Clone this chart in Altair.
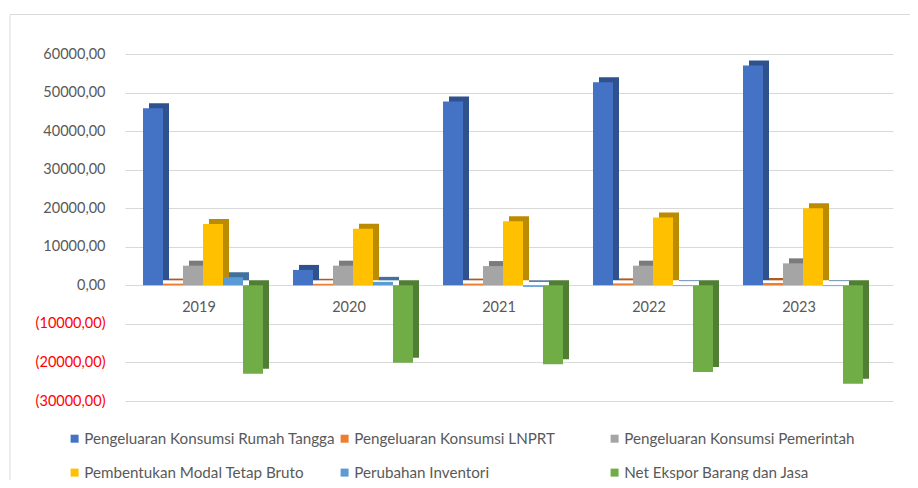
import altair as alt
import pandas as pd

years = ["2019", "2020", "2021", "2022", "2023"]
series = [
    "Pengeluaran Konsumsi Rumah Tangga",
    "Pengeluaran Konsumsi LNPRT",
    "Pengeluaran Konsumsi Pemerintah",
    "Pembentukan Modal Tetap Bruto",
    "Perubahan Inventori",
    "Net Ekspor Barang dan Jasa",
]
rumah_tangga = [45900, 4000, 47700, 52700, 57000]
lnprt = [450, 400, 450, 500, 600]
pemerintah = [5100, 5100, 5000, 5100, 5700]
pmtb = [15900, 14700, 16600, 17600, 20000]
inventori = [2100, 900, -400, -200, -200]
net_ekspor = [-22900, -20100, -20500, -22500, -25500]

front_colors = ["#4472C4", "#ED7D31", "#A5A5A5", "#FFC000", "#5B9BD5", "#70AD47"]
side_colors = ["#2F528F", "#AE5A21", "#7B7B7B", "#BC8C00", "#41719C", "#507E32"]
y_ticks = list(range(-30000, 60001, 10000))

all_values = [rumah_tangga, lnprt, pemerintah, pmtb, inventori, net_ekspor]
rows = []
for j, s in enumerate(series):
    for i, y in enumerate(years):
        rows.append({"year": y, "series": s, "yi": i, "si": j, "value": all_values[j][i]})
df = pd.DataFrame(rows)
ydf = pd.DataFrame({"year": years, "yi": list(range(len(years)))})

FONT = "Lato"
GROUP = 7.5

x_scale = alt.Scale(domain=[-0.9, 37.5], nice=False, zero=False)
y_scale = alt.Scale(domain=[-30000, 60000], nice=False)

label_expr = ("datum.value < 0 ? '(' + replace(format(-datum.value, '.2f'), '.', ',') + ')'"
              " : replace(format(datum.value, '.2f'), '.', ',')")
y_axis = alt.Axis(
    values=y_ticks,
    labelExpr=label_expr,
    labelColor=alt.condition("datum.value < 0", alt.value("#FF0000"), alt.value("#595959")),
    labelFontSize=14.5,
    labelFont=FONT,
    labelPadding=20,
    domain=False,
    ticks=False,
    grid=True,
    gridColor="#D9D9D9",
    gridWidth=1,
    title=None,
)

base = alt.Chart(df).transform_calculate(
    x0=f"datum.yi * {GROUP} + datum.si",
    x1=f"datum.yi * {GROUP} + datum.si + 1",
    zero="0",
)

side = base.mark_bar(xOffset=6, x2Offset=6, yOffset=-5, y2Offset=-5).encode(
    x=alt.X("x0:Q", scale=x_scale, axis=None),
    x2="x1:Q",
    y=alt.Y("value:Q", scale=y_scale, axis=y_axis),
    y2="zero:Q",
    color=alt.Color("series:N", scale=alt.Scale(domain=series, range=side_colors), legend=None),
)

front = base.mark_bar().encode(
    x=alt.X("x0:Q", scale=x_scale, axis=None),
    x2="x1:Q",
    y=alt.Y("value:Q", scale=y_scale, axis=y_axis),
    y2="zero:Q",
    color=alt.Color(
        "series:N",
        scale=alt.Scale(domain=series, range=front_colors),
        legend=alt.Legend(
            orient="none",
            direction="horizontal",
            legendX=-58,
            legendY=377,
            columns=3,
            symbolType="square",
            symbolSize=64,
            symbolStrokeWidth=0,
            symbolOpacity=1,
            labelFontSize=15.2,
            labelFont=FONT,
            labelColor="#595959",
            labelOffset=2,
            labelLimit=400,
            rowPadding=18,
            columnPadding=2,
            gridAlign="all",
            title=None,
        ),
    ),
)

year_labels = alt.Chart(ydf).transform_calculate(
    xc=f"datum.yi * {GROUP} + 2.8",
    zero="0",
).mark_text(dy=23, font=FONT, fontSize=14.5, color="#595959").encode(
    x=alt.X("xc:Q", scale=x_scale, axis=None),
    y=alt.Y("zero:Q", scale=y_scale, axis=y_axis),
    text="year:N",
)

one = pd.DataFrame({"k": [0]})
border_v = alt.Chart(one).mark_rule(color="#D9D9D9", strokeWidth=1).encode(
    x=alt.value(-115), y=alt.value(-39.5), y2=alt.value(450)
)
border_h = alt.Chart(one).mark_rule(color="#D9D9D9", strokeWidth=1).encode(
    x=alt.value(-115), x2=alt.value(785), y=alt.value(-39.5)
)

chart = alt.layer(side, front, year_labels, border_v, border_h).resolve_scale(
    color="independent"
).properties(
    width=768,
    height=347,
    padding={"left": 117, "top": 46, "right": 17, "bottom": 79},
    autosize=alt.AutoSizeParams(type="none"),
).configure(font=FONT, view=alt.ViewConfig(stroke=None))

chart.save("out.html", embed_options={"renderer": "svg", "actions": False})
